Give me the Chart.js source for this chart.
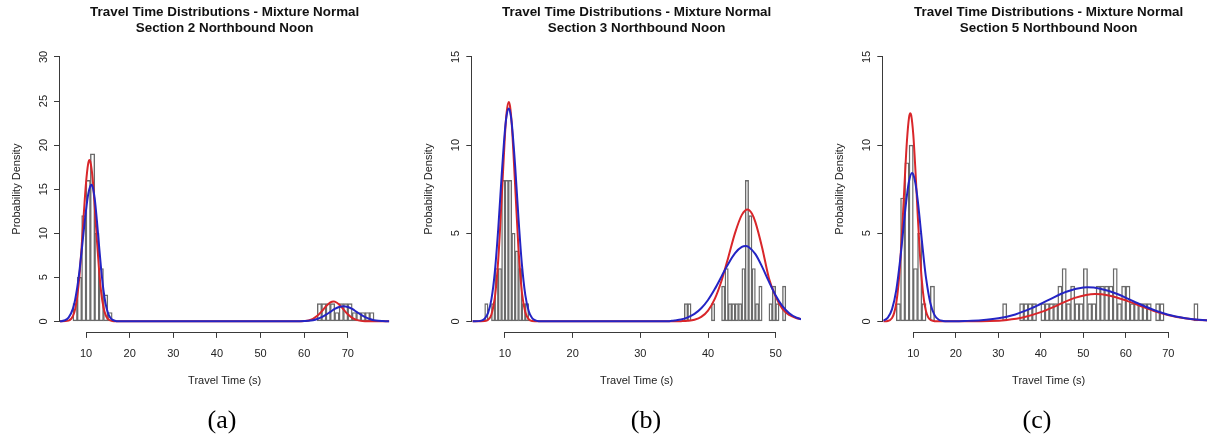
<!DOCTYPE html>
<html>
<head>
<meta charset="utf-8">
<script src="https://cdn.jsdelivr.net/npm/chart.js@4.4.1/dist/chart.umd.min.js"></script>
<style>
  html, body { margin: 0; padding: 0; background: #fff; width: 1207px; height: 444px; overflow: hidden; }
  canvas { position: absolute; top: 0; }
</style>
</head>
<body>
<canvas id="chartA" width="402" height="444" style="left:0px"></canvas>
<canvas id="chartB" width="402" height="444" style="left:402px"></canvas>
<canvas id="chartC" width="416" height="444" style="left:804px"></canvas>
<script>
// ---- data ----
const mainTitle = 'Travel Time Distributions - Mixture Normal';
const subTitles = ['Section 2 Northbound Noon', 'Section 3 Northbound Noon', 'Section 5 Northbound Noon'];
const panelLabels = ['(a)', '(b)', '(c)'];

// panel (a): bins of 1 s
const binsA = [7, 8, 9, 10, 11, 12, 13, 14, 15, 63, 64, 65, 66, 67, 68, 69, 70, 71, 72, 73, 74, 75];
const countsA = [2, 5, 12, 16, 19, 10, 6, 3, 1, 2, 2, 2, 2, 1, 2, 2, 2, 1, 1, 1, 1, 1];
const redAx = [4, 6, 7, 7.5, 8, 8.5, 9, 9.5, 10, 10.5, 10.8, 11, 11.5, 12, 12.5, 13, 13.5, 14, 14.5, 15, 16, 17,
  59, 60, 61, 62, 63, 64, 65, 66, 66.7, 67, 68, 69, 70, 71, 72, 73, 74, 75, 79.5];
const redAy = [0, 0.08, 0.59, 1.37, 2.84, 5.2, 8.47, 12.24, 15.7, 17.9, 18.3, 18.1, 16.3, 13.0, 9.2, 5.8, 3.2, 1.6, 0.7, 0.28, 0.03, 0,
  0, 0.03, 0.1, 0.28, 0.62, 1.13, 1.71, 2.15, 2.25, 2.23, 1.92, 1.36, 0.8, 0.39, 0.16, 0.05, 0.01, 0, 0];
const blueAx = [4, 5, 6, 7, 7.5, 8, 8.5, 9, 9.5, 10, 10.5, 11, 11.25, 11.5, 12, 12.5, 13, 13.5, 14, 14.5, 15, 15.5, 16, 17, 18,
  58, 59, 60, 61, 62, 63, 64, 65, 66, 67, 68, 69, 70, 71, 72, 73, 74, 75, 76, 77, 78, 79, 79.5];
const blueAy = [0, 0.09, 0.41, 1.44, 2.44, 3.87, 5.74, 7.96, 10.37, 12.6, 14.4, 15.37, 15.5, 15.3, 13.9, 11.4, 8.52, 5.77, 3.54, 1.97, 1.0, 0.46, 0.19, 0.02, 0,
  0, 0.01, 0.03, 0.06, 0.13, 0.26, 0.47, 0.75, 1.08, 1.4, 1.63, 1.72, 1.63, 1.4, 1.08, 0.75, 0.47, 0.26, 0.13, 0.06, 0.03, 0.01, 0];

// panel (b): bins of 0.5 s
const binsB = [7, 7.5, 8, 8.5, 9, 9.5, 10, 10.5, 11, 11.5, 12, 12.5, 13,
  36.5, 37, 40.5, 42, 42.5, 43, 43.5, 44, 44.5, 45, 45.5, 46, 46.5, 47, 47.5, 49, 49.5, 50, 51];
const countsB = [1, 0, 1, 3, 3, 8, 8, 8, 5, 4, 3, 1, 1,
  1, 1, 1, 2, 3, 1, 1, 1, 1, 3, 8, 6, 3, 1, 2, 1, 2, 1, 2];
const redBx = [5.2, 7, 7.5, 8, 8.5, 9, 9.5, 10, 10.25, 10.55, 10.75, 11, 11.5, 12, 12.5, 13, 13.5, 14, 15,
  35, 36, 37, 38, 39, 40, 41, 42, 43, 44, 45, 45.85, 46.5, 47, 48, 49, 50, 51, 52, 53, 53.8];
const redBy = [0, 0.02, 0.09, 0.39, 1.34, 3.47, 6.93, 10.6, 11.87, 12.45, 12.19, 11.18, 7.71, 4.07, 1.65, 0.51, 0.12, 0.02, 0,
  0, 0.01, 0.03, 0.09, 0.25, 0.61, 1.27, 2.3, 3.64, 5.02, 6.04, 6.35, 6.11, 5.63, 4.18, 2.45, 1.4, 0.7, 0.36, 0.19, 0.13];
const blueBx = [5.2, 6.5, 7, 7.5, 8, 8.5, 9, 9.5, 10, 10.25, 10.55, 10.75, 11, 11.5, 12, 12.5, 13, 13.5, 14, 14.5, 15, 16,
  34, 35, 36, 37, 38, 39, 40, 41, 42, 43, 44, 45, 45.55, 46, 47, 48, 49, 50, 51, 52, 53, 53.8];
const blueBy = [0, 0.04, 0.15, 0.48, 1.26, 2.81, 5.24, 8.23, 10.87, 11.7, 12.07, 11.9, 11.25, 8.82, 5.82, 3.23, 1.5, 0.59, 0.19, 0.05, 0.01, 0,
  0, 0.05, 0.1, 0.22, 0.42, 0.74, 1.21, 1.83, 2.55, 3.27, 3.87, 4.22, 4.27, 4.22, 3.81, 3.09, 2.25, 1.47, 0.86, 0.46, 0.22, 0.12];

// panel (c): bins of 1 s
const binsC = [6, 7, 8, 9, 10, 11, 12, 14,
  31, 35, 36, 37, 38, 40, 41, 42, 43, 44, 45, 46, 47, 48, 49, 50, 51, 52, 53, 54, 55, 56, 57, 58, 59, 60, 61, 62, 63, 64, 65, 67, 68, 76];
const countsC = [1, 7, 9, 10, 3, 5, 1, 2,
  1, 1, 1, 1, 1, 1, 1, 1, 1, 2, 3, 1, 2, 1, 1, 3, 1, 1, 2, 2, 2, 2, 3, 1, 2, 2, 1, 1, 1, 1, 1, 1, 1, 1];
const redCx = [2.94, 4, 5, 5.5, 6, 6.5, 7, 7.5, 8, 8.5, 9, 9.3, 9.5, 10, 10.5, 11, 11.5, 12, 12.5, 13, 13.5, 14, 15, 16,
  24, 28, 32, 36, 40, 44, 48, 52.75, 56, 60, 64, 68, 72, 76, 80, 80.75];
const redCy = [0, 0.02, 0.19, 0.48, 1.05, 2.07, 3.64, 5.74, 8.1, 10.23, 11.57, 11.8, 11.7, 10.58, 8.57, 6.21, 4.02, 2.34, 1.21, 0.56, 0.23, 0.09, 0.01, 0,
  0.01, 0.02, 0.08, 0.23, 0.52, 0.92, 1.33, 1.55, 1.47, 1.19, 0.82, 0.48, 0.24, 0.1, 0.04, 0.03];
const blueCx = [2.94, 4, 5, 6, 7, 7.5, 8, 8.5, 9, 9.7, 10, 10.5, 11, 11.5, 12, 12.5, 13, 14, 15, 16, 17, 18,
  22, 26, 30, 34, 38, 42, 46, 50, 51, 54, 58, 62, 66, 70, 74, 78, 80.75];
const blueCy = [0.04, 0.21, 0.69, 1.78, 3.68, 4.86, 6.07, 7.15, 7.96, 8.42, 8.33, 7.83, 6.95, 5.83, 4.62, 3.46, 2.45, 1.04, 0.35, 0.09, 0.02, 0,
  0.02, 0.06, 0.17, 0.39, 0.76, 1.23, 1.68, 1.92, 1.93, 1.85, 1.55, 1.11, 0.70, 0.37, 0.18, 0.07, 0.03];

// tick labels
const xTicksA = [10, 20, 30, 40, 50, 60, 70];
const xTicksB = [10, 20, 30, 40, 50];
const xTicksC = [10, 20, 30, 40, 50, 60, 70];
const yTicksA = [0, 5, 10, 15, 20, 25, 30];
const yTicksBC = [0, 5, 10, 15];

// ---- styling ----
const RED = '#d9262a';
const BLUE = '#2424c4';
const AXIS = '#3a3a3a';
const INK = '#222';
const BAR = '#6a6a6a';
Chart.defaults.font.family = '"Liberation Sans", Arial, sans-serif';

// R-style decorations: axis lines over tick range, rotated y labels, titles
const rDecor = {
  id: 'rDecor',
  afterDraw(chart, args, o) {
    const { ctx, chartArea: a, scales: { x, y } } = chart;
    ctx.save();
    ctx.strokeStyle = AXIS;
    ctx.lineWidth = 1;
    ctx.beginPath();
    const yb = Math.round(a.bottom) + 0.5;
    ctx.moveTo(x.getPixelForValue(o.xTicks[0]), yb);
    ctx.lineTo(x.getPixelForValue(o.xTicks[o.xTicks.length - 1]), yb);
    const xl = Math.round(a.left) - 0.5;
    ctx.moveTo(xl, y.getPixelForValue(o.yTicks[0]));
    ctx.lineTo(xl, y.getPixelForValue(o.yTicks[o.yTicks.length - 1]));
    ctx.stroke();

    ctx.fillStyle = INK;
    ctx.textAlign = 'center';
    ctx.textBaseline = 'middle';
    ctx.font = '11px "Liberation Sans"';
    o.yTicks.forEach(v => {
      ctx.save();
      ctx.translate(a.left - 16, y.getPixelForValue(v));
      ctx.rotate(-Math.PI / 2);
      ctx.fillText(String(v), 0, 0);
      ctx.restore();
    });
    ctx.save();
    ctx.translate(a.left - 43, (a.top + a.bottom) / 2);
    ctx.rotate(-Math.PI / 2);
    ctx.fillText('Probability Density', 0, 0);
    ctx.restore();
    ctx.fillText('Travel Time (s)', (a.left + a.right) / 2, 381);

    const cx = (a.left + a.right) / 2;
    ctx.fillStyle = '#111';
    ctx.font = 'bold 13.4px "Liberation Sans"';
    ctx.fillText(mainTitle, cx, 12.5);
    ctx.fillText(o.sub, cx, 28.5);

    ctx.fillStyle = '#000';
    ctx.font = '26px "Liberation Serif"';
    ctx.fillText(o.label, o.labelX, 421);
    ctx.restore();
  }
};

function makePanel(id, p) {
  const hist = p.bins.map((b, i) => ({ x: b + p.binWidth / 2, y: p.counts[i] }));
  const pts = (xs, ys) => xs.map((v, i) => ({ x: v, y: ys[i] }));
  const curve = (xs, ys, color, order) => ({
    type: 'line', data: pts(xs, ys), borderColor: color, borderWidth: 2,
    pointRadius: 0, cubicInterpolationMode: 'monotone', fill: false, order: order
  });
  new Chart(document.getElementById(id), {
    type: 'bar',
    data: {
      datasets: [
        curve(p.blueX, p.blueY, BLUE, 0),
        curve(p.redX, p.redY, RED, 1),
        {
          type: 'bar', data: hist, backgroundColor: 'rgba(255,255,255,0)', borderColor: BAR,
          borderWidth: 0.75, borderSkipped: false, barPercentage: 1, categoryPercentage: 1, order: 2
        }
      ]
    },
    options: {
      responsive: false,
      animation: false,
      layout: { padding: { top: 46.4, left: 0, right: p.padRight, bottom: 0 } },
      plugins: {
        legend: { display: false },
        tooltip: { enabled: false },
        rDecor: { xTicks: p.xTicks, yTicks: p.yTicks, sub: p.sub, label: p.label, labelX: p.labelX }
      },
      scales: {
        x: {
          type: 'linear', min: p.xMin, max: p.xMax, offset: false,
          afterBuildTicks: s => { s.ticks = p.xTicks.map(v => ({ value: v })); },
          afterFit: s => { s.height = 444 - 331.9; },
          border: { display: false },
          grid: { display: true, drawOnChartArea: false, drawTicks: true, tickLength: 6, color: AXIS, offset: false },
          ticks: { color: INK, font: { size: 11 }, padding: 9, maxRotation: 0, autoSkip: false }
        },
        y: {
          type: 'linear', min: p.yMin, max: p.yMax,
          afterBuildTicks: s => { s.ticks = p.yTicks.map(v => ({ value: v })); },
          afterFit: s => { s.width = p.yWidth; },
          border: { display: false },
          grid: { display: true, drawOnChartArea: false, drawTicks: true, tickLength: 6, color: AXIS },
          ticks: { display: false }
        }
      }
    },
    plugins: [rDecor]
  });
}

makePanel('chartA', {
  bins: binsA, counts: countsA, binWidth: 1,
  redX: redAx, redY: redAy, blueX: blueAx, blueY: blueAy,
  xTicks: xTicksA, yTicks: yTicksA, xMin: 4.04, xMax: 79.5, yMin: -1.2, yMax: 31.2,
  yWidth: 60, padRight: 402 - 389.3, sub: subTitles[0], label: panelLabels[0], labelX: 222
});
makePanel('chartB', {
  bins: binsB, counts: countsB, binWidth: 0.5,
  redX: redBx, redY: redBy, blueX: blueBx, blueY: blueBy,
  xTicks: xTicksB, yTicks: yTicksBC, xMin: 5.17, xMax: 53.74, yMin: -0.6, yMax: 15.6,
  yWidth: 70.3, padRight: 402 - 399, sub: subTitles[1], label: panelLabels[1], labelX: 646 - 402
});
makePanel('chartC', {
  bins: binsC, counts: countsC, binWidth: 1,
  redX: redCx, redY: redCy, blueX: blueCx, blueY: blueCy,
  xTicks: xTicksC, yTicks: yTicksBC, xMin: 2.94, xMax: 80.75, yMin: -0.6, yMax: 15.6,
  yWidth: 79.3, padRight: 416 - 410, sub: subTitles[2], label: panelLabels[2], labelX: 1037 - 804
});
</script>
</body>
</html>
